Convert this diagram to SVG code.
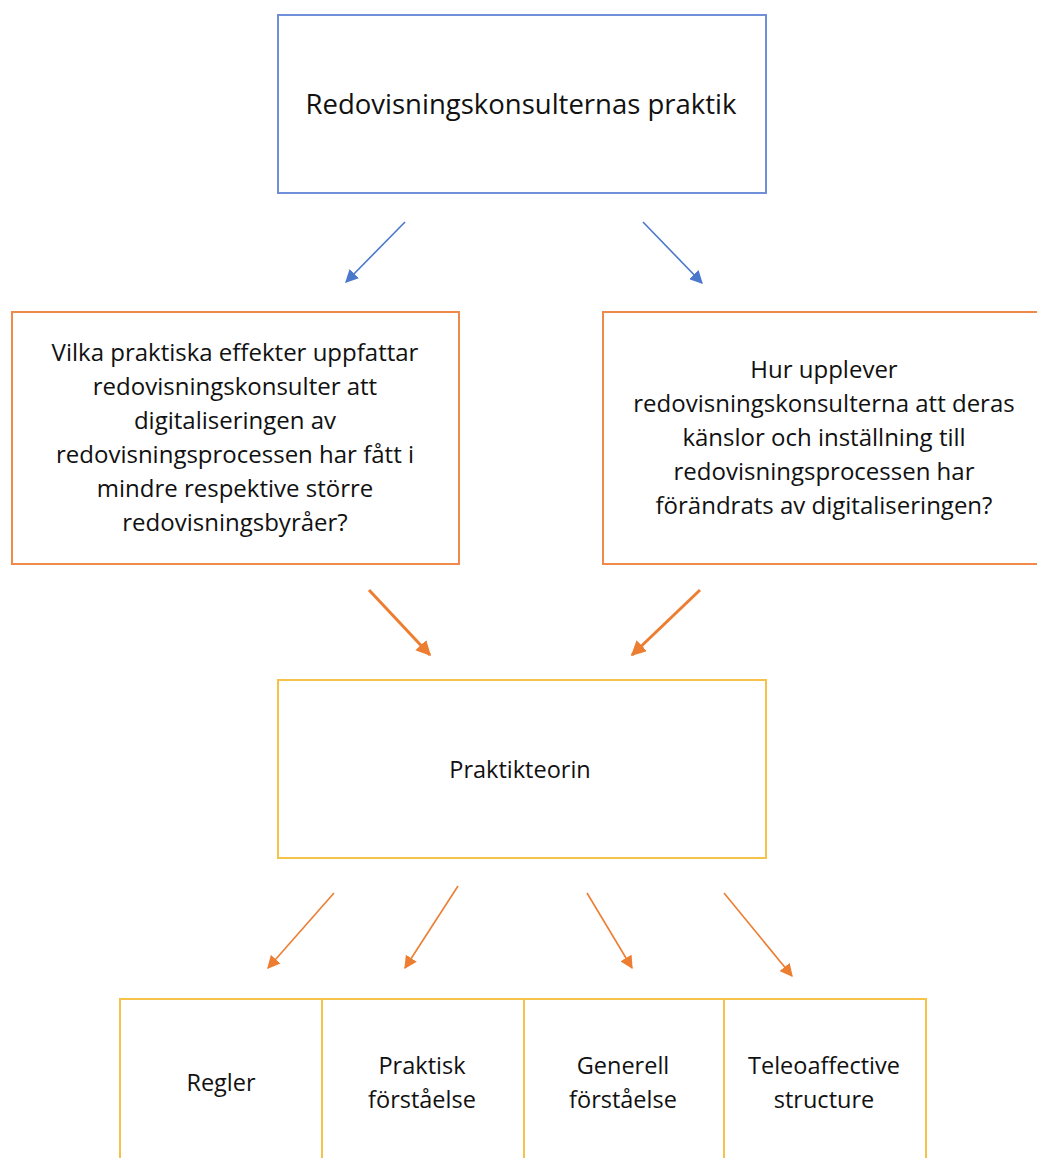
<svg xmlns="http://www.w3.org/2000/svg" width="1037" height="1158" viewBox="0 0 1037 1158">
<defs>
<style>
.t{font-family:"Open Sans","Liberation Sans",Arial,sans-serif;fill:#111;text-anchor:middle}
.blue{fill:#fff;stroke:#6F8FD8;stroke-width:2}
.org{fill:#fff;stroke:#EF8A4A;stroke-width:2}
.yel{fill:#fff;stroke:#F7C24A;stroke-width:2}
.cb{stroke:#4A78CC;stroke-width:1.6;fill:none}
.co{stroke:#ED7D31;stroke-width:3;fill:none}
.ct{stroke:#ED7D31;stroke-width:1.6;fill:none}
</style>
<marker id="ab" viewBox="0 0 10 10" refX="9" refY="5" markerWidth="13" markerHeight="13" orient="auto" markerUnits="userSpaceOnUse"><path d="M0,0 L10,5 L0,10 z" fill="#4A78CC"/></marker>
<marker id="ao" viewBox="0 0 10 10" refX="9" refY="5" markerWidth="15" markerHeight="15" orient="auto" markerUnits="userSpaceOnUse"><path d="M0,0 L10,5 L0,10 z" fill="#ED7D31"/></marker>
<marker id="at" viewBox="0 0 10 10" refX="9" refY="5" markerWidth="13" markerHeight="13" orient="auto" markerUnits="userSpaceOnUse"><path d="M0,0 L10,5 L0,10 z" fill="#ED7D31"/></marker>
</defs>
<rect width="1037" height="1158" fill="#fff"/>
<g id="connectors">
<line class="cb" x1="405" y1="222" x2="346" y2="282" marker-end="url(#ab)"/>
<line class="cb" x1="643" y1="222" x2="702" y2="283" marker-end="url(#ab)"/>
<line class="co" x1="369" y1="590" x2="430" y2="655" marker-end="url(#ao)"/>
<line class="co" x1="700" y1="590" x2="632" y2="655" marker-end="url(#ao)"/>
<line class="ct" x1="334" y1="893" x2="268" y2="968" marker-end="url(#at)"/>
<line class="ct" x1="458" y1="886" x2="405" y2="968" marker-end="url(#at)"/>
<line class="ct" x1="587" y1="893" x2="632" y2="968" marker-end="url(#at)"/>
<line class="ct" x1="724" y1="893" x2="792" y2="976" marker-end="url(#at)"/>
</g>
<g id="top">
<rect class="blue" x="278" y="15" width="488" height="178"/>
<text class="t" x="521" y="114" font-size="27.5">Redovisningskonsulternas praktik</text>
</g>
<g id="q1">
<rect class="org" x="12" y="312" width="447" height="252"/>
<text class="t" font-size="24"><tspan x="235" y="361">Vilka praktiska effekter uppfattar</tspan><tspan x="235" y="395">redovisningskonsulter att</tspan><tspan x="235" y="429">digitaliseringen av</tspan><tspan x="235" y="463">redovisningsprocessen har fått i</tspan><tspan x="235" y="497">mindre respektive större</tspan><tspan x="235" y="531">redovisningsbyråer?</tspan></text>
</g>
<g id="q2">
<rect class="org" x="603" y="312" width="440" height="252"/>
<text class="t" font-size="24"><tspan x="824" y="378">Hur upplever</tspan><tspan x="824" y="412">redovisningskonsulterna att deras</tspan><tspan x="824" y="446">känslor och inställning till</tspan><tspan x="824" y="480">redovisningsprocessen har</tspan><tspan x="824" y="514">förändrats av digitaliseringen?</tspan></text>
</g>
<g id="theory">
<rect class="yel" x="278" y="680" width="488" height="178"/>
<text class="t" x="520" y="778" font-size="23.5">Praktikteorin</text>
</g>
<g id="regler">
<rect class="yel" x="120" y="999" width="202" height="170"/>
<text class="t" x="221" y="1091" font-size="23.5">Regler</text>
</g>
<g id="praktisk">
<rect class="yel" x="322" y="999" width="202" height="170"/>
<text class="t" font-size="23.5"><tspan x="422" y="1074">Praktisk</tspan><tspan x="422" y="1108">förståelse</tspan></text>
</g>
<g id="generell">
<rect class="yel" x="524" y="999" width="200" height="170"/>
<text class="t" font-size="23.5"><tspan x="623" y="1074">Generell</tspan><tspan x="623" y="1108">förståelse</tspan></text>
</g>
<g id="teleo">
<rect class="yel" x="724" y="999" width="202" height="170"/>
<text class="t" font-size="23.5"><tspan x="824" y="1074">Teleoaffective</tspan><tspan x="824" y="1108">structure</tspan></text>
</g>
</svg>
